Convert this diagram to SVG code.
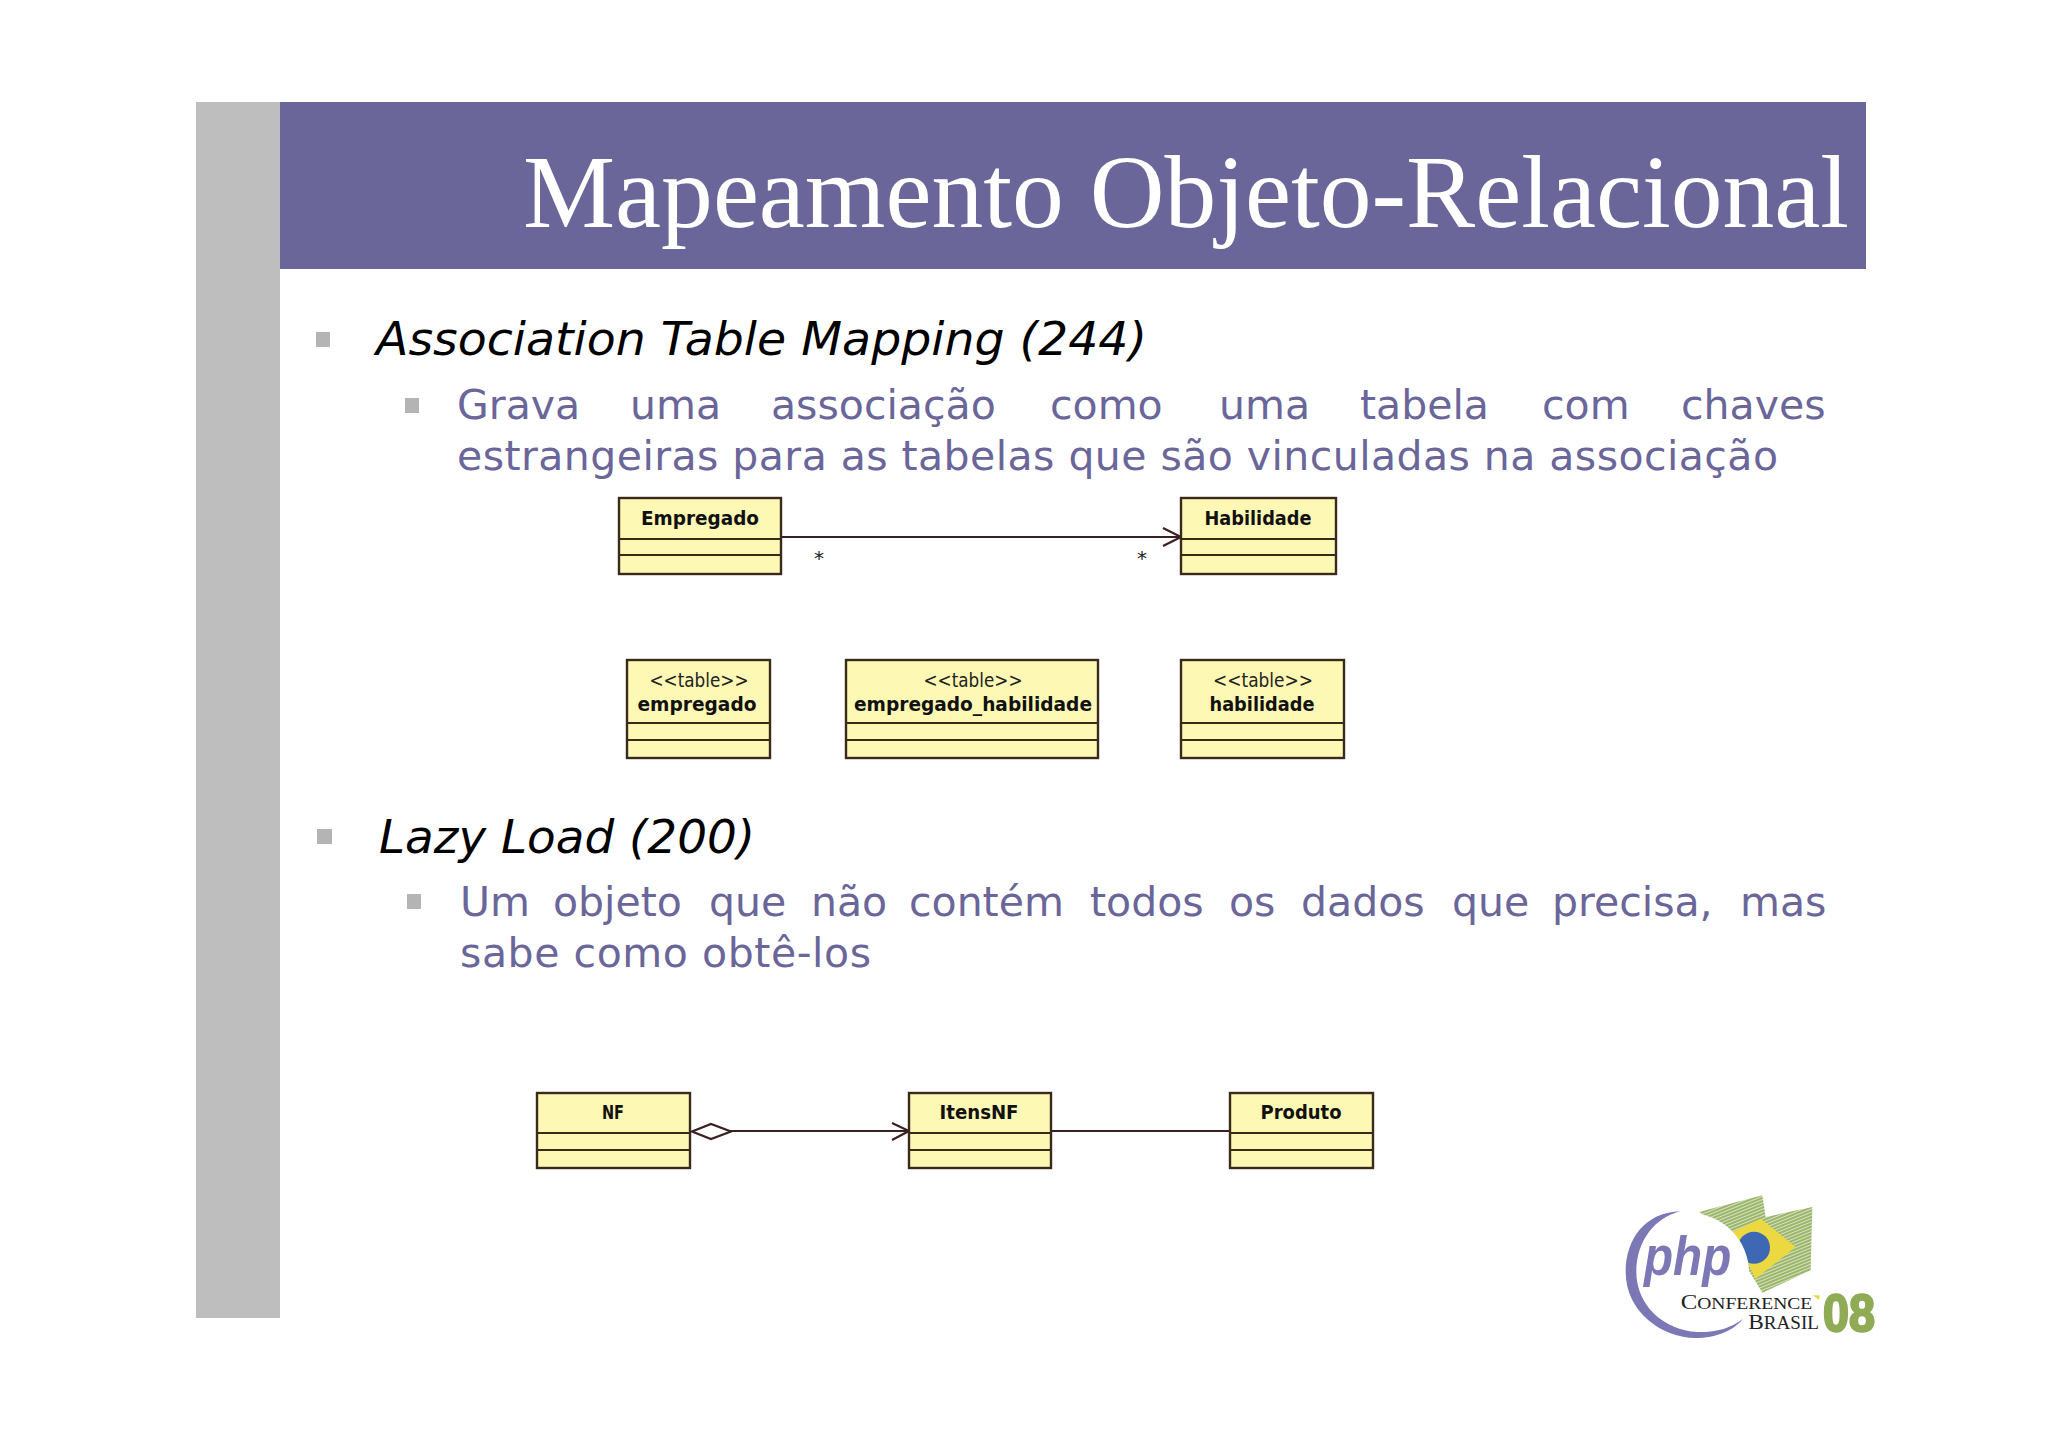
<svg xmlns="http://www.w3.org/2000/svg" width="2048" height="1447" viewBox="0 0 2048 1447">
<style>
.bg{fill:#fff}
.side{fill:#bebebe}
.head{fill:#6a6699}
.title{font:104px "Liberation Serif",serif;fill:#fff}
.h1{font:italic 47px "DejaVu Sans",sans-serif;fill:#000}
.h2{font:41px "DejaVu Sans",sans-serif;fill:#6a6699}
.b{fill:#b4b4b4}
.box{fill:#fdf8b4;stroke:#3a2a1a;stroke-width:2.4}
.div{stroke:#3a2a1a;stroke-width:2.2;fill:none}
.name{font:bold 20px "DejaVu Sans",sans-serif;fill:#111;text-anchor:middle}
.st{font:19px "DejaVu Sans",sans-serif;fill:#222;text-anchor:middle}
.conn{stroke:#3a2020;stroke-width:2.2;fill:none}
.mult{font:20px "DejaVu Sans",sans-serif;fill:#222;text-anchor:middle}
</style>
<defs>
<pattern id="hatch" width="9" height="9" patternUnits="userSpaceOnUse" patternTransform="rotate(-22)">
<rect width="9" height="9" fill="#d8e3c0"/><rect width="9" height="6" fill="#9bb56c"/>
</pattern>
</defs>
<rect class="bg" width="2048" height="1447"/>
<rect class="side" x="196" y="102" width="84" height="1216"/>
<rect class="head" x="280" y="102" width="1586" height="167"/>
<text class="title" x="523" y="227" textLength="1326" lengthAdjust="spacingAndGlyphs">Mapeamento Objeto-Relacional</text>

<rect class="b" x="316" y="332" width="14" height="15"/>
<text class="h1" x="376" y="355" textLength="771" lengthAdjust="spacingAndGlyphs">Association Table Mapping (244)</text>
<rect class="b" x="405" y="398" width="14" height="15"/>
<text class="h2" y="419"><tspan x="457">Grava</tspan><tspan x="630">uma</tspan><tspan x="771">associação</tspan><tspan x="1050">como</tspan><tspan x="1219">uma</tspan><tspan x="1360">tabela</tspan><tspan x="1542">com</tspan><tspan x="1681">chaves</tspan></text>
<text class="h2" x="457" y="470" textLength="1321" lengthAdjust="spacing">estrangeiras para as tabelas que são vinculadas na associação</text>

<rect class="b" x="317" y="829" width="15" height="15"/>
<text class="h1" x="379" y="853" textLength="376" lengthAdjust="spacingAndGlyphs">Lazy Load (200)</text>
<rect class="b" x="407" y="894" width="14" height="15"/>
<text class="h2" y="916"><tspan x="460">Um</tspan><tspan x="553">objeto</tspan><tspan x="709">que</tspan><tspan x="811">não</tspan><tspan x="909">contém</tspan><tspan x="1090">todos</tspan><tspan x="1229">os</tspan><tspan x="1301">dados</tspan><tspan x="1452">que</tspan><tspan x="1552">precisa,</tspan><tspan x="1740">mas</tspan></text>
<text class="h2" x="460" y="967" textLength="411" lengthAdjust="spacing">sabe como obtê-los</text>

<g id="connectors">
<path class="conn" d="M781 537H1181M1163 528L1181 537L1163 546"/>
<path class="conn" d="M730 1131H909M892 1123L909 1131L892 1140M1051 1131H1230"/>
<path class="conn" fill="#fff" d="M692 1131.500L711 1124L731 1131.500L711 1139Z"/>
</g>
<g id="mult-labels">
<text class="mult" x="819" y="565">*</text>
<text class="mult" x="1142" y="565">*</text>
</g>

<g id="empregado-class">
<rect class="box" x="619" y="498" width="162" height="76"/>
<path class="div" d="M619 539H781M619 555H781"/>
<text class="name" x="700" y="525" textLength="118" lengthAdjust="spacingAndGlyphs">Empregado</text>
</g>
<g id="habilidade-class">
<rect class="box" x="1181" y="498" width="155" height="76"/>
<path class="div" d="M1181 539H1336M1181 555H1336"/>
<text class="name" x="1258" y="525" textLength="107" lengthAdjust="spacingAndGlyphs">Habilidade</text>
</g>
<g id="empregado-table">
<rect class="box" x="627" y="660" width="143" height="98"/>
<path class="div" d="M627 723H770M627 740H770"/>
<text class="st" x="699" y="687" textLength="99" lengthAdjust="spacingAndGlyphs">&lt;&lt;table&gt;&gt;</text>
<text class="name" x="697" y="711" textLength="119" lengthAdjust="spacingAndGlyphs">empregado</text>
</g>
<g id="empregado-habilidade-table">
<rect class="box" x="846" y="660" width="252" height="98"/>
<path class="div" d="M846 723H1098M846 740H1098"/>
<text class="st" x="973" y="687" textLength="99" lengthAdjust="spacingAndGlyphs">&lt;&lt;table&gt;&gt;</text>
<text class="name" x="973" y="711" textLength="238" lengthAdjust="spacingAndGlyphs">empregado_habilidade</text>
</g>
<g id="habilidade-table">
<rect class="box" x="1181" y="660" width="163" height="98"/>
<path class="div" d="M1181 723H1344M1181 740H1344"/>
<text class="st" x="1263" y="687" textLength="100" lengthAdjust="spacingAndGlyphs">&lt;&lt;table&gt;&gt;</text>
<text class="name" x="1262" y="711" textLength="105" lengthAdjust="spacingAndGlyphs">habilidade</text>
</g>
<g id="nf">
<rect class="box" x="537" y="1093" width="153" height="75"/>
<path class="div" d="M537 1133H690M537 1150H690"/>
<text class="name" x="613" y="1119" textLength="22" lengthAdjust="spacingAndGlyphs">NF</text>
</g>
<g id="itensnf">
<rect class="box" x="909" y="1093" width="142" height="75"/>
<path class="div" d="M909 1133H1051M909 1150H1051"/>
<text class="name" x="979" y="1119" textLength="79" lengthAdjust="spacingAndGlyphs">ItensNF</text>
</g>
<g id="produto">
<rect class="box" x="1230" y="1093" width="143" height="75"/>
<path class="div" d="M1230 1133H1373M1230 1150H1373"/>
<text class="name" x="1301" y="1119" textLength="81" lengthAdjust="spacingAndGlyphs">Produto</text>
</g>

<g id="logo" transform="translate(1599 1182) scale(.33333)">
<path fill="url(#hatch)" d="M300 90L490 40L500 105L640 75L635 265L490 332L440 250L400 150Z"/>
<path fill="#ecd840" d="M400 150L485 110L590 195L470 290L440 230Z"/>
<circle cx="465" cy="197" r="48" fill="#3f68b4"/>
<circle cx="272" cy="272" r="178" fill="#fff"/>
<path fill="#7b78b5" d="M245 88C140 90 80 170 80 270C80 390 190 468 290 468C350 468 405 445 432 410C395 440 345 452 295 450C195 445 112 370 112 270C112 175 170 105 245 88Z"/>
<text x="135" y="280" font-family="Liberation Sans,sans-serif" font-style="italic" font-weight="bold" font-size="165" fill="#7b78b5" textLength="262" lengthAdjust="spacingAndGlyphs">php</text>
<text x="245" y="380" font-family="Liberation Serif,serif" font-size="66" fill="#222" textLength="395" lengthAdjust="spacingAndGlyphs">C<tspan font-size="52">ONFERENCE</tspan></text>
<path fill="#ecd840" d="M642 340L662 340L660 354Z"/>
<text x="448" y="440" font-family="Liberation Serif,serif" font-size="66" fill="#222" textLength="212" lengthAdjust="spacingAndGlyphs">B<tspan font-size="54">RASIL</tspan></text>
<text x="672" y="447" font-family="Liberation Sans,sans-serif" font-weight="bold" font-size="158" fill="#8fab55" stroke="#8fab55" stroke-width="7" textLength="156" lengthAdjust="spacingAndGlyphs">08</text>
</g>
</svg>
